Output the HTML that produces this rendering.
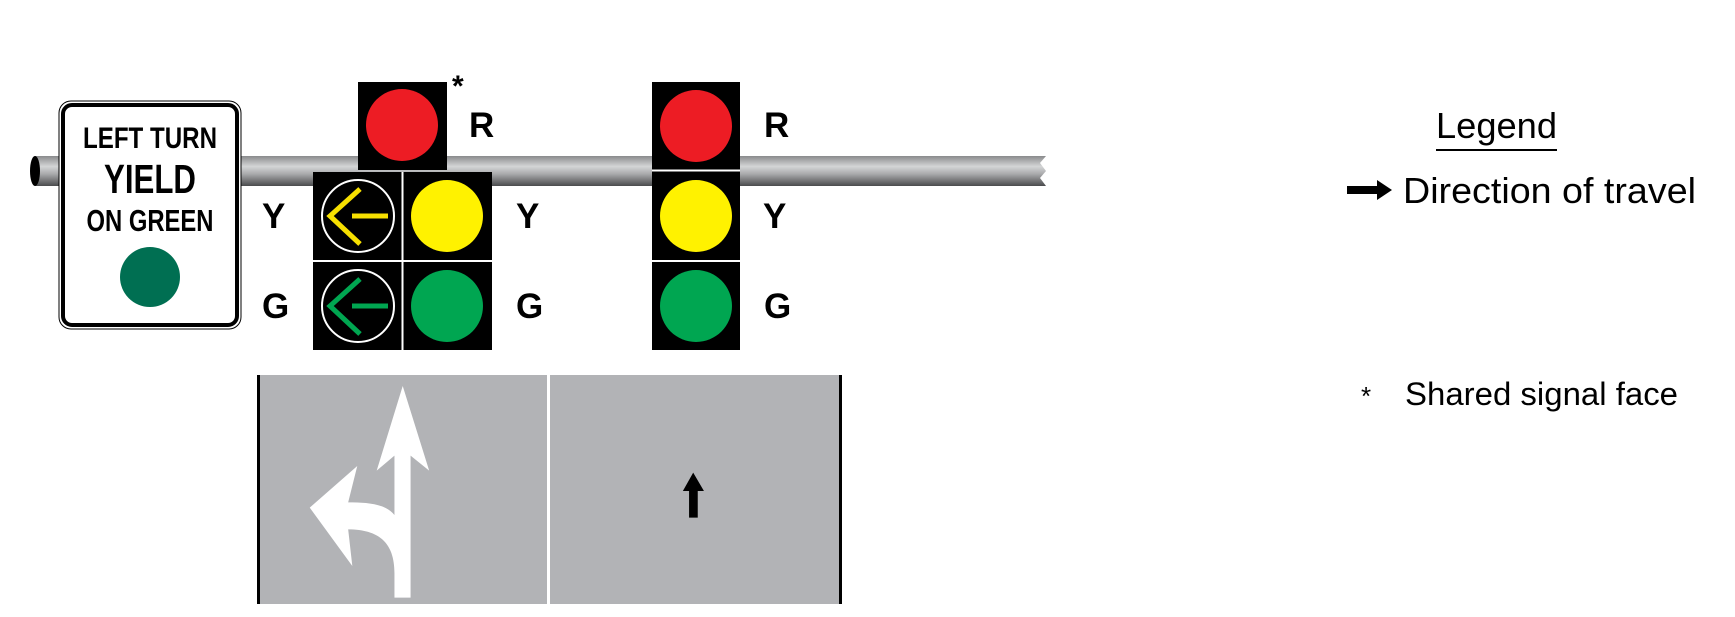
<!DOCTYPE html>
<html><head><meta charset="utf-8"><style>
html,body{margin:0;padding:0;background:#fff;}
svg{display:block;}
text{font-family:"Liberation Sans",Arial,sans-serif;}
</style></head><body>
<svg width="1735" height="617" viewBox="0 0 1735 617" xmlns="http://www.w3.org/2000/svg">
<defs>
<linearGradient id="pole" x1="0" y1="0" x2="0" y2="1">
<stop offset="0" stop-color="#8a8b8d"/>
<stop offset="0.35" stop-color="#d4d5d6"/>
<stop offset="0.6" stop-color="#a9aaac"/>
<stop offset="1" stop-color="#4a4b4d"/>
</linearGradient>
</defs>
<!-- pole -->
<polygon points="35,156 1046,156 1040,163 1046,171 1040,178 1046,186 35,186" fill="url(#pole)"/>
<ellipse cx="35" cy="171" rx="5" ry="15" fill="#000"/>
<!-- sign -->
<rect x="59" y="101" width="182" height="228" rx="12" fill="#fff" stroke="#000" stroke-width="1"/>
<rect x="63" y="105" width="174" height="220" rx="9" fill="#fff" stroke="#000" stroke-width="4"/>
<g font-weight="bold" style="font-family:'Liberation Sans Narrow','Liberation Sans',sans-serif" text-anchor="middle">
<text x="150" y="148" font-size="30" textLength="134" lengthAdjust="spacingAndGlyphs">LEFT TURN</text>
<text x="150" y="193" font-size="41" textLength="92" lengthAdjust="spacingAndGlyphs">YIELD</text>
<text x="150" y="231" font-size="31" textLength="127" lengthAdjust="spacingAndGlyphs">ON GREEN</text>
</g>
<circle cx="150" cy="277" r="30" fill="#006f52"/>
<!-- shared red -->
<rect x="358" y="82" width="89" height="88" fill="#000"/>
<circle cx="402" cy="125" r="36" fill="#ed1c24"/>
<text x="452" y="96" font-size="30" font-weight="bold">*</text>
<!-- 4 box -->
<rect x="313" y="172" width="179" height="178" fill="#000"/>
<line x1="402.5" y1="172" x2="402.5" y2="350" stroke="#fff" stroke-width="2"/>
<line x1="313" y1="261" x2="492" y2="261" stroke="#fff" stroke-width="2"/>
<circle cx="447" cy="216" r="36" fill="#fff200"/>
<circle cx="447" cy="306" r="36" fill="#00a651"/>
<circle cx="358" cy="216" r="36" fill="none" stroke="#fff" stroke-width="2"/>
<circle cx="358" cy="306" r="36" fill="none" stroke="#fff" stroke-width="2"/>
<g stroke="#f7e000" stroke-width="5" fill="none">
<polyline points="360,189 330,216 360,244"/><line x1="352" y1="216" x2="388" y2="216"/>
</g>
<g stroke="#00a651" stroke-width="5" fill="none">
<polyline points="360,279 330,306 360,334"/><line x1="352" y1="306" x2="388" y2="306"/>
</g>
<!-- right signal -->
<rect x="652" y="82" width="88" height="268" fill="#000"/>
<line x1="652" y1="170.5" x2="740" y2="170.5" stroke="#fff" stroke-width="2"/>
<line x1="652" y1="261" x2="740" y2="261" stroke="#fff" stroke-width="2"/>
<circle cx="696" cy="126" r="36" fill="#ed1c24"/>
<circle cx="696" cy="216" r="36" fill="#fff200"/>
<circle cx="696" cy="306" r="36" fill="#00a651"/>
<!-- labels -->
<g font-size="35" font-weight="bold">
<text x="469" y="137">R</text>
<text x="262" y="228">Y</text>
<text x="262" y="318">G</text>
<text x="516" y="228">Y</text>
<text x="516" y="318">G</text>
<text x="764" y="137">R</text>
<text x="763" y="228">Y</text>
<text x="764" y="318">G</text>
</g>
<!-- road -->
<rect x="257" y="375" width="585" height="229" fill="#b2b3b6"/>
<rect x="257" y="375" width="3" height="229" fill="#000"/>
<rect x="839" y="375" width="3" height="229" fill="#000"/>
<rect x="547" y="375" width="3" height="229" fill="#fff"/>
<g transform="translate(230,360) scale(0.4132,0.3333)">
<path fill="#fff" d="M418,78 L482,332 L437,287 L437,713 L398,713 L398,640 C398,560 370,508 286,508 L296,618 L193,443 L308,318 L286,427 C330,427 375,430 398,465 L398,287 L355,332 Z"/>
<polygon fill="#000" points="1121,338 1147,393 1132,393 1132,473 1111,473 1111,393 1096,393"/>
</g>
<!-- legend -->
<text x="1436" y="138" font-size="36" textLength="121" lengthAdjust="spacingAndGlyphs">Legend</text>
<line x1="1436" y1="150" x2="1557" y2="150" stroke="#000" stroke-width="2"/>
<polygon fill="#000" points="1347,186 1377,186 1377,180 1392,190 1377,200 1377,194 1347,194"/>
<text x="1403" y="203" font-size="36" textLength="293" lengthAdjust="spacingAndGlyphs">Direction of travel</text>
<text x="1361" y="405" font-size="26">*</text>
<text x="1405" y="405" font-size="32" textLength="273" lengthAdjust="spacingAndGlyphs">Shared signal face</text>
</svg>
</body></html>
